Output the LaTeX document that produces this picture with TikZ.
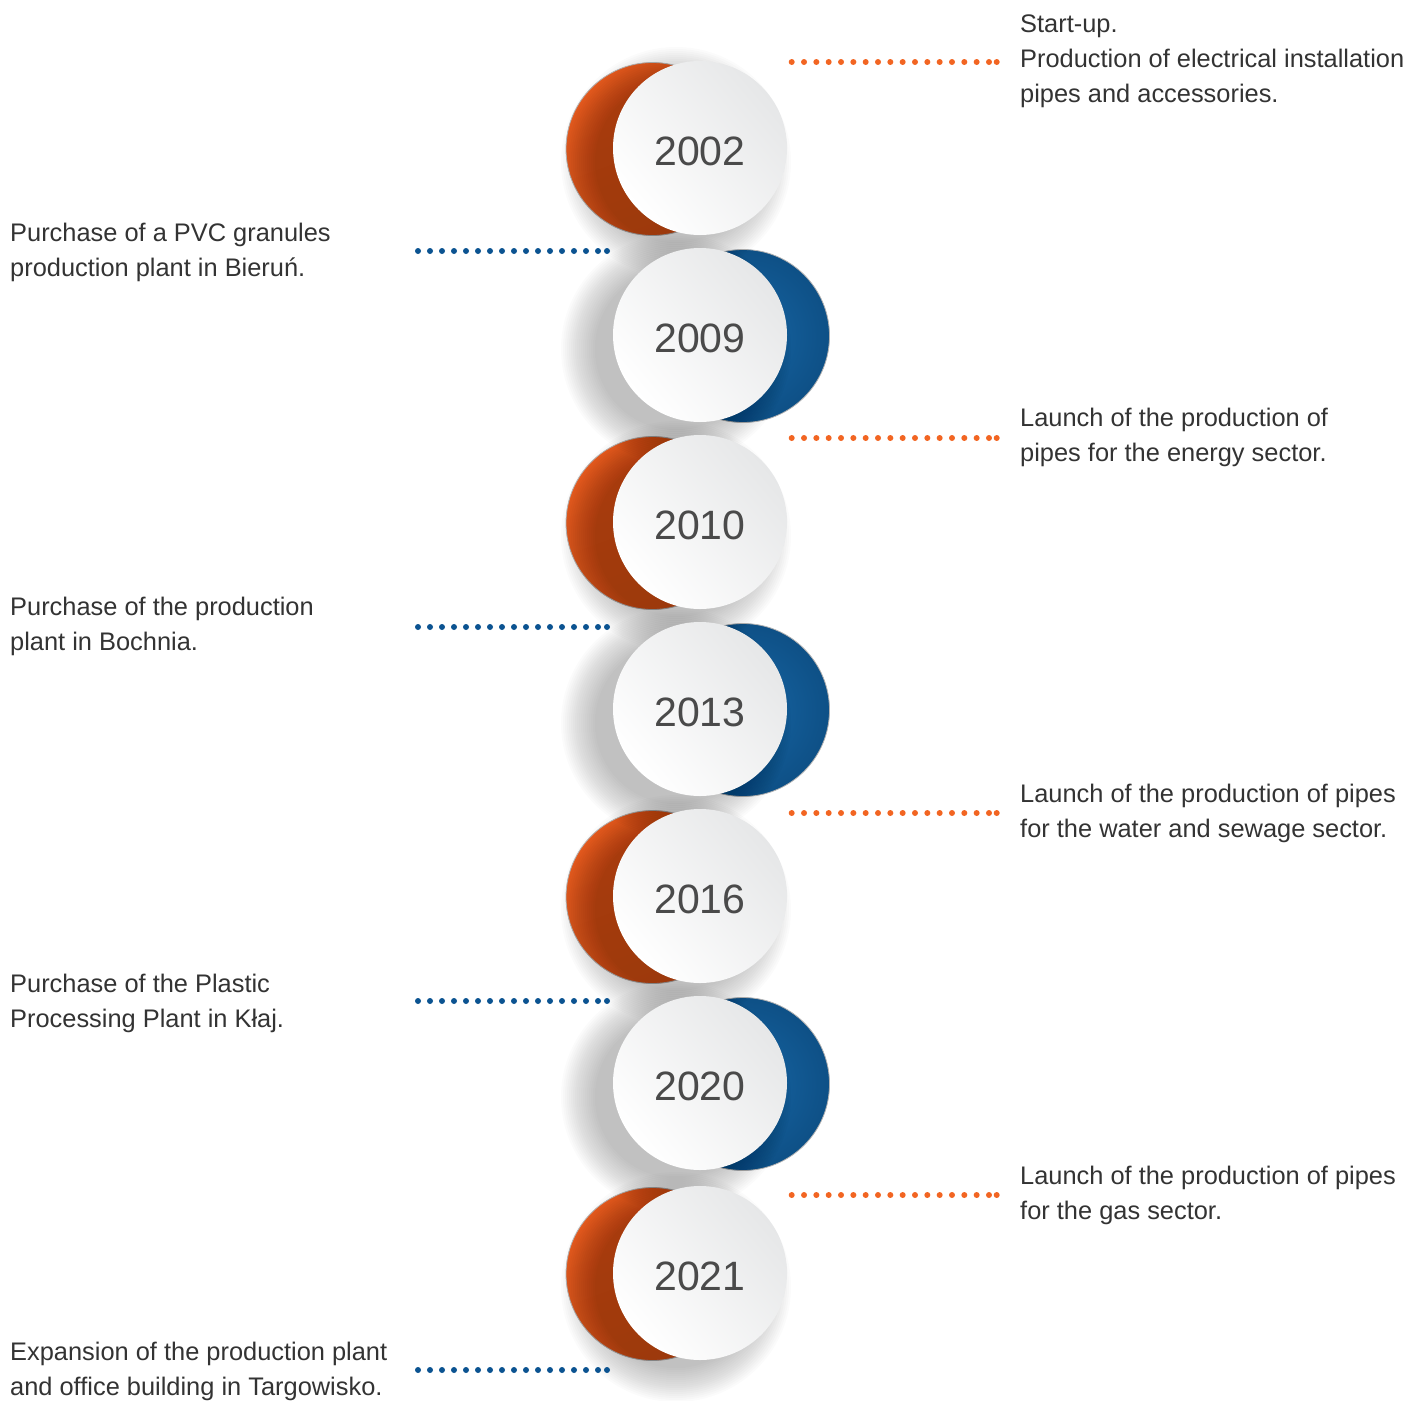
\documentclass[tikz,border=0pt]{standalone}
\usepackage{fontspec}
\setmainfont{Liberation Sans}
\definecolor{txt}{HTML}{333333}
\definecolor{yeartxt}{HTML}{4A4A4A}
\definecolor{orangeA}{HTML}{EC5D1F}
\definecolor{orangeB}{HTML}{D9581E}
\definecolor{blueA}{HTML}{1766A5}
\definecolor{blueB}{HTML}{0E5086}
\definecolor{dotorange}{HTML}{F26522}
\definecolor{dotblue}{HTML}{0B5391}
\definecolor{whiteB}{HTML}{E6E7E8}
\begin{document}
\begin{tikzpicture}[x=1pt,y=-1pt,
  orangeback/.style={circle, minimum size=173pt, inner sep=0pt, draw=gray!55, line width=0.8pt,
     top color=orangeA, bottom color=orangeB, shading angle=20},
  blueback/.style={circle, minimum size=173pt, inner sep=0pt, draw=gray!60, line width=0.8pt,
     inner color=blueA, outer color=blueB},
  whitedisc/.style={circle, minimum size=174pt, inner sep=0pt,
     top color=whiteB, bottom color=white, shading angle=-50},
  yeartext/.style={inner sep=0pt, text=yeartxt, font=\fontsize{41}{41}\selectfont},
  eventtext/.style={anchor=base west, align=left, inner sep=0pt, text=txt,
     font=\fontsize{25.4}{35}\selectfont},
  orangedots/.style={draw=dotorange, line width=6pt, line cap=round, dash pattern=on 0pt off 12.33pt},
  bluedots/.style={draw=dotblue, line width=6pt, line cap=round, dash pattern=on 0pt off 12pt},
]
\useasboundingbox (0,0) rectangle (1408,1400);

% coloured backs
\foreach \cy/\yr in {148/2002,522/2010,896/2016,1273/2021}
  \node[orangeback] (b\yr) at (652.5,\cy+1) {};
\foreach \cy/\yr in {335/2009,709/2013,1083/2020}
  \node[blueback] (b\yr) at (743,\cy+1) {};

% soft shadows, white discs and years
\foreach \cy/\yr in {148/2002,335/2009,522/2010,709/2013,896/2016,1083/2020,1273/2021}{
  \foreach \k in {1,...,18}
    \fill[black, opacity=0.016] (676,\cy+14) circle[radius=79+\k*2];
  \node[whitedisc] (w\yr) at (700,\cy) {};
  \node[yeartext] (t\yr) at ([yshift=-3pt]w\yr.center) {\yr};
}

% dotted leaders
\coordinate (o1s) at (791.7,62);   \coordinate (o1e) at (996.7,62);
\coordinate (o2s) at (791.7,438);  \coordinate (o2e) at (996.7,438);
\coordinate (o3s) at (791.7,813);  \coordinate (o3e) at (996.7,813);
\coordinate (o4s) at (791.7,1195); \coordinate (o4e) at (996.7,1195);
\coordinate (l1s) at (418,251);  \coordinate (l1e) at (607,251);
\coordinate (l2s) at (418,627);  \coordinate (l2e) at (607,627);
\coordinate (l3s) at (418,1001); \coordinate (l3e) at (607,1001);
\coordinate (l4s) at (418,1370); \coordinate (l4e) at (607,1370);
\foreach \n in {1,2,3,4}{
  \draw[orangedots] (o\n s) -- ([xshift=-7.4pt]o\n e);
  \fill[dotorange] (o\n e) circle[radius=3];
  \draw[bluedots] (l\n s) -- ([xshift=-8.8pt]l\n e);
  \fill[dotblue] (l\n e) circle[radius=3];
}

% texts (base anchor = baseline of last line)
\node[eventtext] (e2002) at (1020,102) {Start-up.\\Production of electrical installation\\pipes and accessories.};
\node[eventtext] (e2009) at (10,276) {Purchase of a PVC granules\\production plant in Bieruń.};
\node[eventtext] (e2010) at (1020,461) {Launch of the production of\\pipes for the energy sector.};
\node[eventtext] (e2013) at (10,650) {Purchase of the production\\plant in Bochnia.};
\node[eventtext] (e2016) at (1020,837) {Launch of the production of pipes\\for the water and sewage sector.};
\node[eventtext] (e2020) at (10,1027) {Purchase of the Plastic\\Processing Plant in Kłaj.};
\node[eventtext] (e2021) at (1020,1219) {Launch of the production of pipes\\for the gas sector.};
\node[eventtext] (e2021b) at (10,1395) {Expansion of the production plant\\and office building in Targowisko.};
\end{tikzpicture}
\end{document}
